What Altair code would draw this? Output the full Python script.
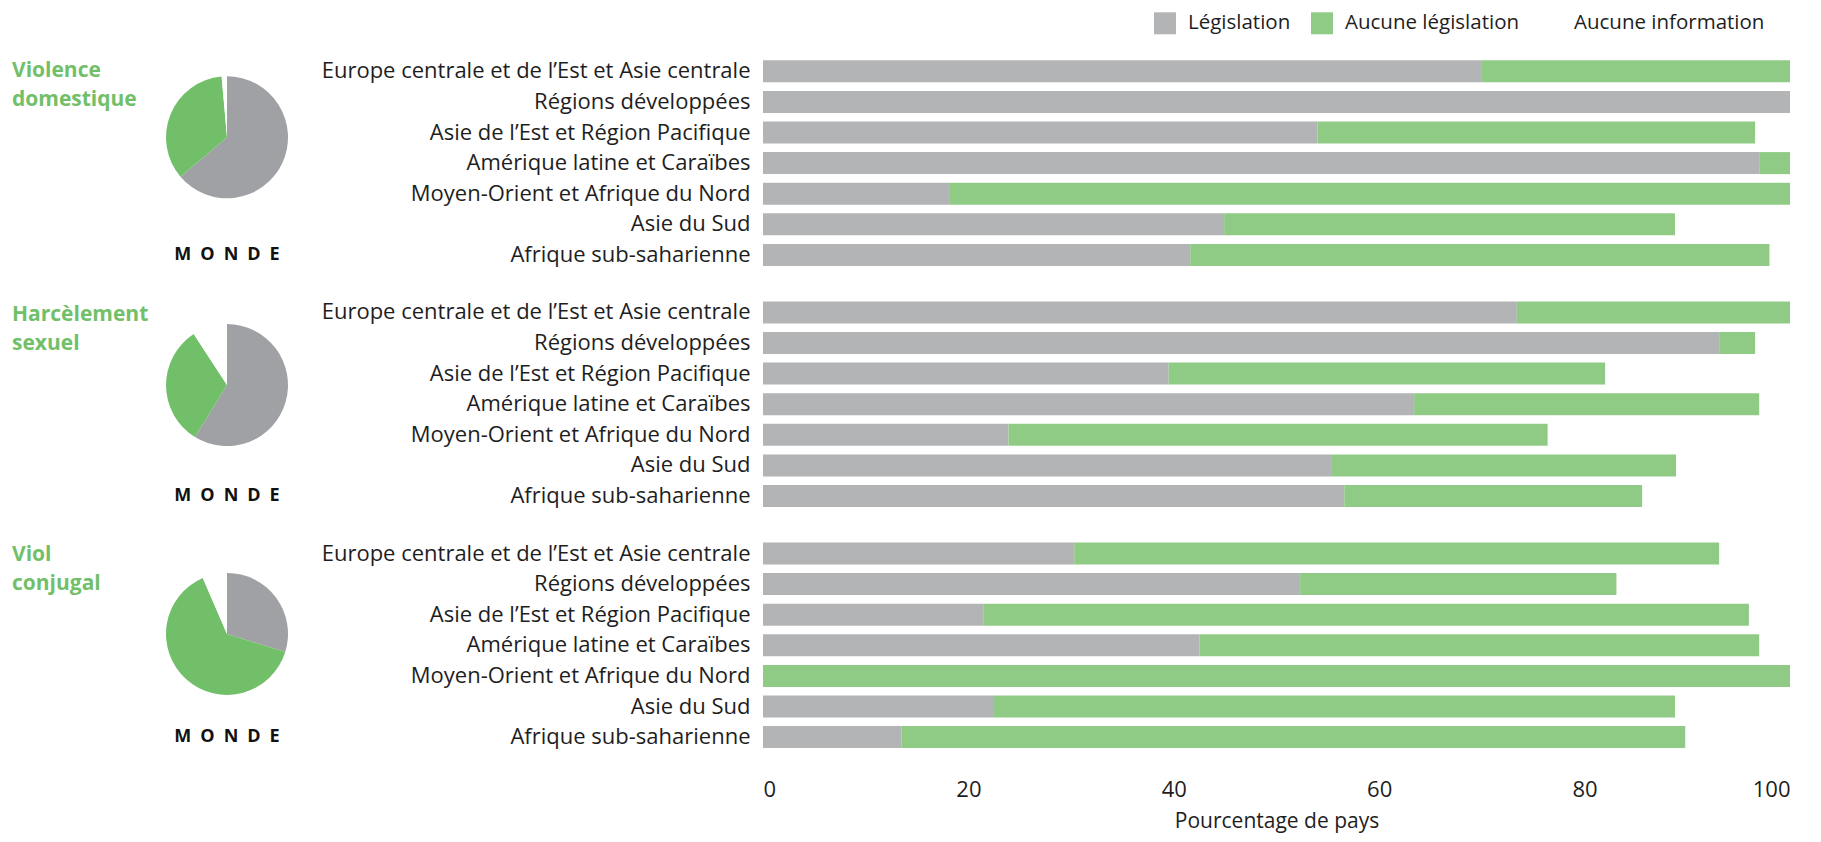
import altair as alt
import pandas as pd

REGIONS = [
    "Europe centrale et de l’Est et Asie centrale",
    "Régions développées",
    "Asie de l’Est et Région Pacifique",
    "Amérique latine et Caraïbes",
    "Moyen-Orient et Afrique du Nord",
    "Asie du Sud",
    "Afrique sub-saharienne",
]
SERIES = ["Législation", "Aucune législation", "Aucune information"]
TITLE_LINES = [["Violence", "domestique"], ["Harcèlement", "sexuel"], ["Viol", "conjugal"]]
WORLD = "M\u2002O\u2002N\u2002D\u2002E"

# percentage of countries with legislation / without legislation
VD_LEGIS = [70.0, 100.0, 54.0, 97.0, 18.2, 44.9, 41.6]
VD_NONE = [30.0, 0.0, 42.6, 3.0, 81.8, 43.9, 56.4]
HS_LEGIS = [73.4, 93.1, 39.5, 63.4, 23.9, 55.4, 56.6]
HS_NONE = [26.6, 3.5, 42.5, 33.6, 52.5, 33.5, 29.0]
VC_LEGIS = [30.3, 52.3, 21.5, 42.5, 0.0, 22.4, 13.5]
VC_NONE = [62.8, 30.8, 74.5, 54.5, 100.0, 66.4, 76.3]

# world pies: legislation, no legislation, no information
VD_PIE = [63.8, 34.8, 1.4]
HS_PIE = [58.8, 32.0, 9.2]
VC_PIE = [29.8, 63.7, 6.5]

X_TICKS = [0, 20, 40, 60, 80, 100]

BAR_COLORS = ["#B3B4B6", "#90CB86", "#FFFFFF"]
PIE_COLORS = ["#A0A1A5", "#72BF6A", "#FFFFFF"]
TITLE_GREEN = "#72BF6A"
TEXT = "#1E1E1E"
FONT = "Open Sans"
FS = 22

ROW_H = 214.2
BAR_W = 1027
PIE_W = 300


def bar_panel(legis, none, first, last):
    rows = []
    for i, r in enumerate(REGIONS):
        rows.append({"region": r, "series": SERIES[0], "value": legis[i], "ord": 0})
        rows.append({"region": r, "series": SERIES[1], "value": none[i], "ord": 1})
    df = pd.DataFrame(rows)
    if first:
        legend = alt.Legend(
            title=None, orient="none", legendX=391, legendY=-43.7,
            direction="horizontal", symbolType="square", symbolSize=484,
            symbolStrokeWidth=0, symbolOpacity=1, labelFontSize=20.5,
            labelOffset=12, columnPadding=20, labelColor=TEXT, labelFont=FONT,
            labelLimit=400,
        )
    else:
        legend = None
    if last:
        xaxis = alt.Axis(
            values=X_TICKS, grid=False, domain=False, ticks=False,
            labelFontSize=FS, labelPadding=27, labelColor=TEXT, labelFont=FONT,
            title="Pourcentage de pays", titleFontSize=21, titleFontWeight="normal",
            titleColor=TEXT, titlePadding=10, titleFont=FONT,
        )
    else:
        xaxis = None
    return alt.Chart(df).mark_bar().encode(
        x=alt.X("value:Q", stack="zero", scale=alt.Scale(domain=[0, 100], nice=False), axis=xaxis),
        y=alt.Y("region:N", sort=REGIONS,
                scale=alt.Scale(paddingInner=0.28, paddingOuter=0.14),
                axis=alt.Axis(title=None, domain=False, ticks=False, labelFontSize=FS,
                              labelPadding=13, labelColor=TEXT, labelLimit=0, labelFont=FONT)),
        color=alt.Color("series:N", scale=alt.Scale(domain=SERIES, range=BAR_COLORS), legend=legend),
        order=alt.Order("ord:Q"),
    ).properties(width=BAR_W, height=ROW_H)


def pie_panel(pie, lines, pie_y, title_y):
    dfp = pd.DataFrame({"series": SERIES, "value": pie, "ord": [0, 1, 2]})
    one = pd.DataFrame({"k": [0]})
    arcs = alt.Chart(dfp).mark_arc(radius=61).encode(
        theta=alt.Theta("value:Q", stack=True),
        order=alt.Order("ord:Q"),
        color=alt.Color("series:N", scale=alt.Scale(domain=SERIES, range=PIE_COLORS), legend=None),
        x=alt.value(219), y=alt.value(pie_y),
    )
    title = alt.Chart(one).mark_text(
        align="left", baseline="middle", fontSize=21, fontWeight="bold",
        color=TITLE_GREEN, lineHeight=29, font=FONT,
    ).encode(x=alt.value(4), y=alt.value(title_y), text=alt.value(lines))
    monde = alt.Chart(one).mark_text(
        align="center", baseline="middle", fontSize=18, fontWeight="bold",
        color="#111111", font=FONT,
    ).encode(x=alt.value(219), y=alt.value(ROW_H - 15.5), text=alt.value(WORLD))
    return alt.layer(title, arcs, monde).properties(width=PIE_W, height=ROW_H)


chart = alt.concat(
    pie_panel(VD_PIE, TITLE_LINES[0], 81.3, 14.5), bar_panel(VD_LEGIS, VD_NONE, True, False),
    pie_panel(HS_PIE, TITLE_LINES[1], 88.0, 17.5), bar_panel(HS_LEGIS, HS_NONE, False, False),
    pie_panel(VC_PIE, TITLE_LINES[2], 95.7, 16.5), bar_panel(VC_LEGIS, VC_NONE, False, True),
    columns=2, spacing={"row": 26.1, "column": 455}, bounds="flush",
).resolve_scale(color="independent").resolve_legend(color="independent").properties(
    padding={"left": 0, "top": 4, "right": 0, "bottom": 6}
).configure(font=FONT).configure_view(stroke=None)

chart.save("out.html", embed_options={"renderer": "svg", "actions": False})
